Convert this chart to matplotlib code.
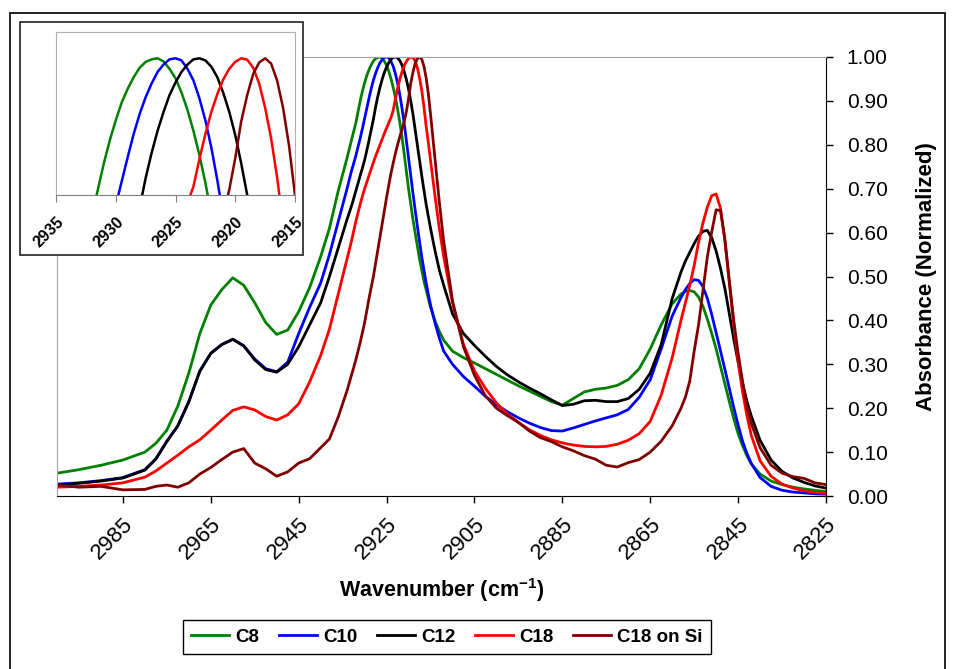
import numpy as np
import matplotlib.pyplot as plt
from matplotlib.patches import Rectangle
from matplotlib.ticker import FormatStrFormatter

plt.rcParams['font.family'] = ['Liberation Sans', 'DejaVu Sans']
plt.rcParams['mathtext.default'] = 'regular'

# wavenumber grid (cm-1) (finer around the main peak for the inset)
wavenumber = [3000, 2995, 2990, 2985, 2980, 2977.5, 2975, 2972.5, 2970, 2967.5, 2965, 2962.5,
              2960, 2957.5, 2955, 2952.5, 2950, 2947.5, 2945, 2942.5, 2940, 2938, 2936, 2934,
              2933, 2932.5, 2932, 2931.5, 2931, 2930.5, 2930, 2929.5, 2929, 2928.5, 2928, 2927.5, 2927,
              2926.5, 2926, 2925.5, 2925, 2924.5, 2924, 2923.5, 2923, 2922.5, 2922, 2921.5, 2921, 2920.5,
              2920, 2919.5, 2919, 2918.5, 2918, 2917.5, 2917, 2916.5, 2916, 2915.5, 2915, 2914.5, 2914,
              2913, 2912,
              2910, 2907.5, 2905, 2902.5, 2900, 2897.5, 2895, 2892.5, 2890, 2887.5, 2885, 2882.5,
              2880, 2877.5, 2875, 2872.5, 2870, 2867.5, 2865, 2862.5, 2860,
              2858, 2857, 2856, 2855, 2854, 2853, 2852, 2851, 2850, 2849, 2848, 2847,
              2846, 2845, 2844, 2843, 2842, 2840, 2837.5, 2835, 2832.5, 2830, 2827.5, 2825]

c8 = [0.052, 0.06, 0.07, 0.082, 0.10, 0.12, 0.15, 0.205, 0.28, 0.37, 0.435, 0.47,
      0.497, 0.48, 0.44, 0.395, 0.368, 0.378, 0.42, 0.475, 0.545, 0.61, 0.695, 0.77,
      0.81, 0.83, 0.85, 0.875, 0.90, 0.922, 0.941, 0.958, 0.971, 0.982, 0.991, 0.9965, 0.999,
      1.0, 0.997, 0.990, 0.981, 0.9675, 0.951, 0.931, 0.908, 0.8815, 0.852, 0.818, 0.78, 0.74,
      0.70, 0.665, 0.63, 0.60, 0.57, 0.54, 0.515, 0.49, 0.47, 0.45, 0.43, 0.415, 0.40,
      0.375, 0.355,
      0.33, 0.315, 0.303, 0.29, 0.277, 0.264, 0.251, 0.239, 0.227, 0.215, 0.207, 0.222,
      0.237, 0.243, 0.246, 0.252, 0.265, 0.29, 0.335, 0.39, 0.438,
      0.46, 0.466, 0.468, 0.465, 0.453, 0.432, 0.403, 0.37, 0.335, 0.295, 0.255, 0.215,
      0.177, 0.142, 0.115, 0.092, 0.073, 0.05, 0.034, 0.026, 0.02, 0.016, 0.013, 0.01]

c10 = [0.027, 0.03, 0.035, 0.042, 0.06, 0.085, 0.125, 0.16, 0.215, 0.285, 0.325, 0.345,
       0.357, 0.342, 0.312, 0.29, 0.283, 0.305, 0.37, 0.43, 0.485, 0.55, 0.625, 0.70,
       0.74, 0.757, 0.775, 0.795, 0.815, 0.837, 0.86, 0.883, 0.906, 0.928, 0.947, 0.963, 0.976,
       0.987, 0.994, 0.999, 1.0, 0.998, 0.99, 0.979, 0.962, 0.941, 0.915, 0.884, 0.85, 0.81,
       0.77, 0.73, 0.69, 0.652, 0.615, 0.58, 0.545, 0.515, 0.485, 0.46, 0.435, 0.415, 0.395,
       0.36, 0.33,
       0.30, 0.272, 0.25, 0.227, 0.208, 0.192, 0.178, 0.166, 0.156, 0.149, 0.148, 0.155,
       0.163, 0.171, 0.178, 0.185, 0.197, 0.225, 0.265, 0.335, 0.41,
       0.452, 0.47, 0.484, 0.493, 0.491, 0.477, 0.45, 0.413, 0.372, 0.33, 0.288, 0.245,
       0.202, 0.162, 0.125, 0.097, 0.074, 0.042, 0.022, 0.013, 0.009, 0.007, 0.005, 0.004]

c12 = [0.025, 0.029, 0.034, 0.041, 0.059, 0.084, 0.124, 0.16, 0.215, 0.284, 0.325, 0.345,
       0.357, 0.342, 0.31, 0.288, 0.282, 0.30, 0.34, 0.39, 0.44, 0.50, 0.565, 0.63,
       0.66, 0.677, 0.695, 0.712, 0.73, 0.747, 0.765, 0.787, 0.81, 0.834, 0.858, 0.886, 0.91,
       0.931, 0.949, 0.965, 0.977, 0.987, 0.994, 0.999, 1.0, 0.998, 0.992, 0.982, 0.967, 0.949,
       0.927, 0.90, 0.87, 0.835, 0.80, 0.765, 0.73, 0.697, 0.665, 0.637, 0.61, 0.585, 0.56,
       0.515, 0.48,
       0.415, 0.37, 0.343, 0.318, 0.295, 0.276, 0.26, 0.246, 0.233, 0.219, 0.206, 0.209,
       0.217, 0.218, 0.215, 0.215, 0.222, 0.243, 0.28, 0.345, 0.45,
       0.51, 0.535, 0.555, 0.575, 0.592, 0.603, 0.605, 0.588, 0.558, 0.518, 0.472, 0.415,
       0.358, 0.305, 0.257, 0.216, 0.182, 0.127, 0.082, 0.056, 0.041, 0.031, 0.023, 0.018]

c18 = [0.02, 0.022, 0.025, 0.03, 0.043, 0.057, 0.075, 0.093, 0.112, 0.128, 0.15, 0.173,
       0.195, 0.203, 0.196, 0.181, 0.173, 0.185, 0.21, 0.26, 0.32, 0.38, 0.46, 0.54,
       0.58, 0.603, 0.625, 0.645, 0.665, 0.683, 0.70, 0.715, 0.73, 0.745, 0.76, 0.774, 0.787,
       0.80, 0.813, 0.826, 0.838, 0.85, 0.862, 0.878, 0.904, 0.928, 0.949, 0.966, 0.98, 0.99,
       0.9966, 1.0, 0.9987, 0.991, 0.976, 0.953, 0.924, 0.887, 0.843, 0.805, 0.765, 0.725, 0.685,
       0.61, 0.545,
       0.44, 0.345, 0.285, 0.245, 0.212, 0.187, 0.167, 0.151, 0.138, 0.128, 0.121, 0.116,
       0.113, 0.112, 0.113, 0.118, 0.127, 0.142, 0.17, 0.23, 0.315,
       0.40, 0.44, 0.48, 0.525, 0.578, 0.622, 0.658, 0.684, 0.688, 0.655, 0.58, 0.485,
       0.39, 0.305, 0.238, 0.183, 0.138, 0.08, 0.045, 0.027, 0.018, 0.012, 0.008, 0.006]

c18_si = [0.025, 0.02, 0.022, 0.014, 0.015, 0.022, 0.025, 0.02, 0.03, 0.05, 0.065, 0.083,
          0.10, 0.108, 0.075, 0.062, 0.045, 0.055, 0.075, 0.085, 0.11, 0.13, 0.18, 0.24,
          0.275, 0.292, 0.31, 0.33, 0.35, 0.372, 0.395, 0.422, 0.45, 0.475, 0.50, 0.53, 0.56,
          0.59, 0.62, 0.65, 0.68, 0.708, 0.735, 0.758, 0.78, 0.80, 0.818, 0.835, 0.853, 0.875,
          0.905, 0.94, 0.965, 0.985, 0.996, 1.0, 0.995, 0.979, 0.953, 0.917, 0.87, 0.82, 0.77,
          0.67, 0.58,
          0.445, 0.34, 0.275, 0.228, 0.20, 0.183, 0.168, 0.148, 0.133, 0.124, 0.112, 0.103,
          0.092, 0.084, 0.07, 0.066, 0.076, 0.083, 0.10, 0.125, 0.16,
          0.20, 0.225, 0.262, 0.33, 0.39, 0.468, 0.545, 0.602, 0.652, 0.65, 0.585, 0.49,
          0.40, 0.325, 0.262, 0.205, 0.165, 0.11, 0.07, 0.052, 0.044, 0.04, 0.03, 0.026]

labels = ["C8", "C10", "C12", "C18", "C18 on Si"]
colors = ["#008000", "#0000ff", "#000000", "#ff0000", "#800000"]
data = [c8, c10, c12, c18, c18_si]

W, H = 954, 669


def px_box(x0, y0, x1, y1):
    # pixel box (top-left origin) -> figure fraction [left, bottom, width, height]
    return [x0 / W, 1 - y1 / H, (x1 - x0) / W, (y1 - y0) / H]


fig = plt.figure(figsize=(W / 100, H / 100), dpi=100)

# main chart
ax = fig.add_axes(px_box(57, 57, 826, 496))
for lab, vals, col in zip(labels, data, colors):
    ax.plot(wavenumber, vals, color=col, lw=2, label=lab)

ax.set_xlim(3000, 2825)
ax.set_ylim(0, 1)
ax.set_xticks(np.arange(2985, 2824, -20))
ax.set_yticks(np.arange(0, 1.001, 0.1))
ax.yaxis.set_major_formatter(FormatStrFormatter('%.2f'))
ax.yaxis.tick_right()
ax.yaxis.set_label_position('right')
ax.tick_params(axis='both', direction='out', length=5, width=1)
ax.tick_params(axis='y', pad=10, labelsize=15)
ax.tick_params(axis='x', pad=8, labelsize=16)
for t in ax.get_xticklabels():
    t.set_rotation(45)
    t.set_ha('right')
    t.set_va('top')
    t.set_rotation_mode('anchor')
for s in ['left', 'top']:
    ax.spines[s].set_color('#a0a0a0')
ax.set_xlabel('Wavenumber (cm$^{-1}$)', fontsize=15.5, fontweight='bold', labelpad=9)
ax.set_ylabel('Absorbance (Normalized)', fontsize=16, fontweight='bold', labelpad=20)

# inset frame
fig.add_artist(Rectangle((20 / W, 1 - 255 / H), 283 / W, 233 / H, transform=fig.transFigure,
                         facecolor='white', edgecolor='#333333', lw=1.3, zorder=1))

ax_in = fig.add_axes(px_box(56, 32, 295, 195), zorder=2)
for vals, col in zip(data, colors):
    ax_in.plot(wavenumber, vals, color=col, lw=1.8)
ax_in.set_xlim(2935, 2915)
ax_in.set_ylim(0.87, 1.025)
ax_in.set_yticks([])
ax_in.set_xticks(np.arange(2935, 2914, -5))
ax_in.tick_params(axis='x', direction='out', length=5, color='#808080', labelsize=11.5, pad=9)
for t in ax_in.get_xticklabels():
    t.set_rotation(45)
    t.set_ha('right')
    t.set_va('top')
    t.set_rotation_mode('anchor')
    t.set_fontweight('bold')
for s in ['left', 'top', 'right']:
    ax_in.spines[s].set_color('#b0b0b0')
ax_in.spines['bottom'].set_color('#808080')

# outer border
fig.add_artist(Rectangle((10 / W, -0.02), 935 / W, 1 - 13 / H + 0.02, transform=fig.transFigure,
                         facecolor='none', edgecolor='black', lw=1.2, zorder=3))

handles, _ = ax.get_legend_handles_labels()
fig.legend(handles, labels, loc='center', bbox_to_anchor=(447 / W, 1 - 637 / H), ncol=5,
           frameon=True, fancybox=False, edgecolor='black', framealpha=1,
           prop={'size': 13.5, 'weight': 'bold'}, handlelength=2.0, handletextpad=0.35,
           columnspacing=1.05, borderpad=0.45)

fig.savefig('out.png', dpi=100)
